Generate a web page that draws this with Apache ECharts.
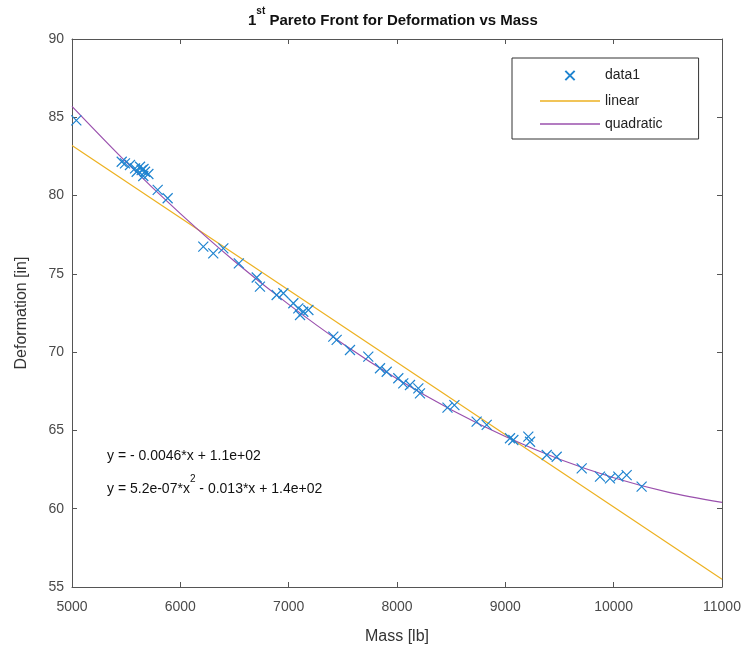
<!DOCTYPE html>
<html>
<head>
<meta charset="utf-8">
<script src="https://cdn.jsdelivr.net/npm/echarts@6/dist/echarts.min.js"></script>
<style>html,body{margin:0;padding:0;background:#fff}#c{width:756px;height:661px}</style>
</head>
<body>
<div id="c"></div>
<script>
// Pareto points [mass, deformation]
var paretoPoints = [
  [5040,84.8],
  [5459,82.16],[5489,82.06],[5535,81.95],[5582,81.74],[5628,81.84],[5643,81.63],[5674,81.52],[5705,81.38],[5597,81.52],[5658,81.25],[5660,81.7],
  [5791,80.36],[5883,79.83],
  [6212,76.74],[6304,76.31],[6397,76.63],[6540,75.67],[6705,74.77],[6735,74.18],
  [6889,73.65],[6951,73.76],[7043,73.12],[7089,72.8],[7135,72.58],[7182,72.69],[7105,72.37],
  [7412,70.99],[7443,70.78],[7566,70.14],[7735,69.71],[7843,68.97],[7905,68.75],[8012,68.33],[8058,68.01],[8120,67.9],[8197,67.69],[8212,67.37],
  [8466,66.46],[8530,66.62],[8735,65.56],[8828,65.35],[9043,64.5],[9074,64.39],[9212,64.6],[9228,64.28],[9382,63.43],[9474,63.32],
  [9705,62.58],[9874,62.05],[9966,61.94],[10043,62.05],[10120,62.15],[10258,61.41]
];
// linear fit line (endpoints)
var linearX = [5000, 11000];
var linearY = [83.2, 55.5];
// quadratic fit curve
var quadX = [5000,5500,6000,6500,7000,7500,8000,8500,9000,9500,10000,10500,11000];
var quadY = [85.70,82.14,78.85,75.81,73.05,70.54,68.3,66.32,64.61,63.16,61.98,61.06,60.40];
var xTicks = {min:5000, max:11000, interval:1000};
var yTicks = {min:55, max:90, interval:5};
var eqLinear = 'y = - 0.0046*x + 1.1e+02';

function zip(a,b){return a.map(function(v,i){return [v,b[i]];});}

var axisColor = '#555';
var labelColor = '#4a4a4a';
var font = 'Liberation Sans, Arial, sans-serif';
var chart = echarts.init(document.getElementById('c'));
var xBase = {type:'value', min:xTicks.min, max:xTicks.max, interval:xTicks.interval,
  axisLine:{show:true, lineStyle:{color:axisColor, width:1}},
  axisTick:{show:true, inside:true, length:5, lineStyle:{color:axisColor}},
  splitLine:{show:false}};
var yBase = {type:'value', min:yTicks.min, max:yTicks.max, interval:yTicks.interval,
  axisLine:{show:true, lineStyle:{color:axisColor, width:1}},
  axisTick:{show:true, inside:true, length:5, lineStyle:{color:axisColor}},
  splitLine:{show:false}};
var lineIcon = 'path://M0,0L60,0L60,1.3L0,1.3Z';
var crossIcon = 'path://M-2.5,-2.5M12.5,12.5M0,0L10,10M10,0L0,10';

chart.setOption({
  animation:false,
  backgroundColor:'#fff',
  title:{
    left:243, top:1,
    text:'{a|1}{s|st}{a| Pareto Front for Deformation vs Mass}',
    textStyle:{rich:{
      a:{fontFamily:font, fontSize:15, fontWeight:'bold', color:'#111', verticalAlign:'bottom', lineHeight:22},
      s:{fontFamily:font, fontSize:10, fontWeight:'bold', color:'#111', verticalAlign:'top', lineHeight:22, padding:[0,0,8,0]}
    }}
  },
  grid:{left:72, right:34, top:39, bottom:74, containLabel:false},
  legend:{
    left:512, top:58, orient:'vertical',
    padding:[8,36,8,28], itemGap:9, itemWidth:60, itemHeight:14,
    borderColor:'#333', borderWidth:1, backgroundColor:'#fff',
    textStyle:{fontFamily:font, fontSize:14, color:'#222'},
    data:[{name:'data1', icon:crossIcon},{name:'linear', icon:lineIcon},{name:'quadratic', icon:lineIcon}]
  },
  xAxis:[
    Object.assign({}, xBase, {position:'bottom',
      name:'Mass [lb]', nameLocation:'middle', nameGap:42,
      nameTextStyle:{fontFamily:font, fontSize:16, color:'#333'},
      axisLabel:{fontFamily:font, fontSize:14, color:labelColor, margin:13,
        formatter:function(v){return String(v);}}}),
    Object.assign({}, xBase, {position:'top', axisLabel:{show:false}})
  ],
  yAxis:[
    Object.assign({}, yBase, {position:'left',
      name:'Deformation [in]', nameLocation:'middle', nameGap:42,
      nameTextStyle:{fontFamily:font, fontSize:16, color:'#333'},
      axisLabel:{fontFamily:font, fontSize:14, color:labelColor, margin:8}}),
    Object.assign({}, yBase, {position:'right', axisLabel:{show:false}})
  ],
  graphic:[
    {type:'text', left:107, top:449, style:{text:eqLinear, font:'14px '+font, fill:'#111'}},
    {type:'text', left:107, top:474, style:{
      text:'{a|y = 5.2e-07*x}{s|2}{a| - 0.013*x + 1.4e+02}',
      rich:{
        a:{fontFamily:font, fontSize:14, fill:'#111', color:'#111', verticalAlign:'bottom', lineHeight:22},
        s:{fontFamily:font, fontSize:10, fill:'#111', color:'#111', verticalAlign:'top', lineHeight:22, padding:[0,0,8,0]}
      }}}
  ],
  series:[
    {name:'linear', type:'line', data:zip(linearX, linearY), showSymbol:false, symbol:'none',
      lineStyle:{color:'#EDB120', width:1.2}, itemStyle:{color:'#EDB120'}, z:2},
    {name:'quadratic', type:'line', data:zip(quadX, quadY), showSymbol:false, symbol:'none', smooth:0.3,
      lineStyle:{color:'#9a50ad', width:1.2}, itemStyle:{color:'#9a50ad'}, z:3},
    {name:'data1', type:'scatter', data:paretoPoints,
      symbol:'path://M0,0L10,10M10,0L0,10', symbolSize:10,
      itemStyle:{color:'none', borderColor:'#1f84d0', borderWidth:1.2, opacity:1}, z:4}
  ]
});
</script>
</body>
</html>
